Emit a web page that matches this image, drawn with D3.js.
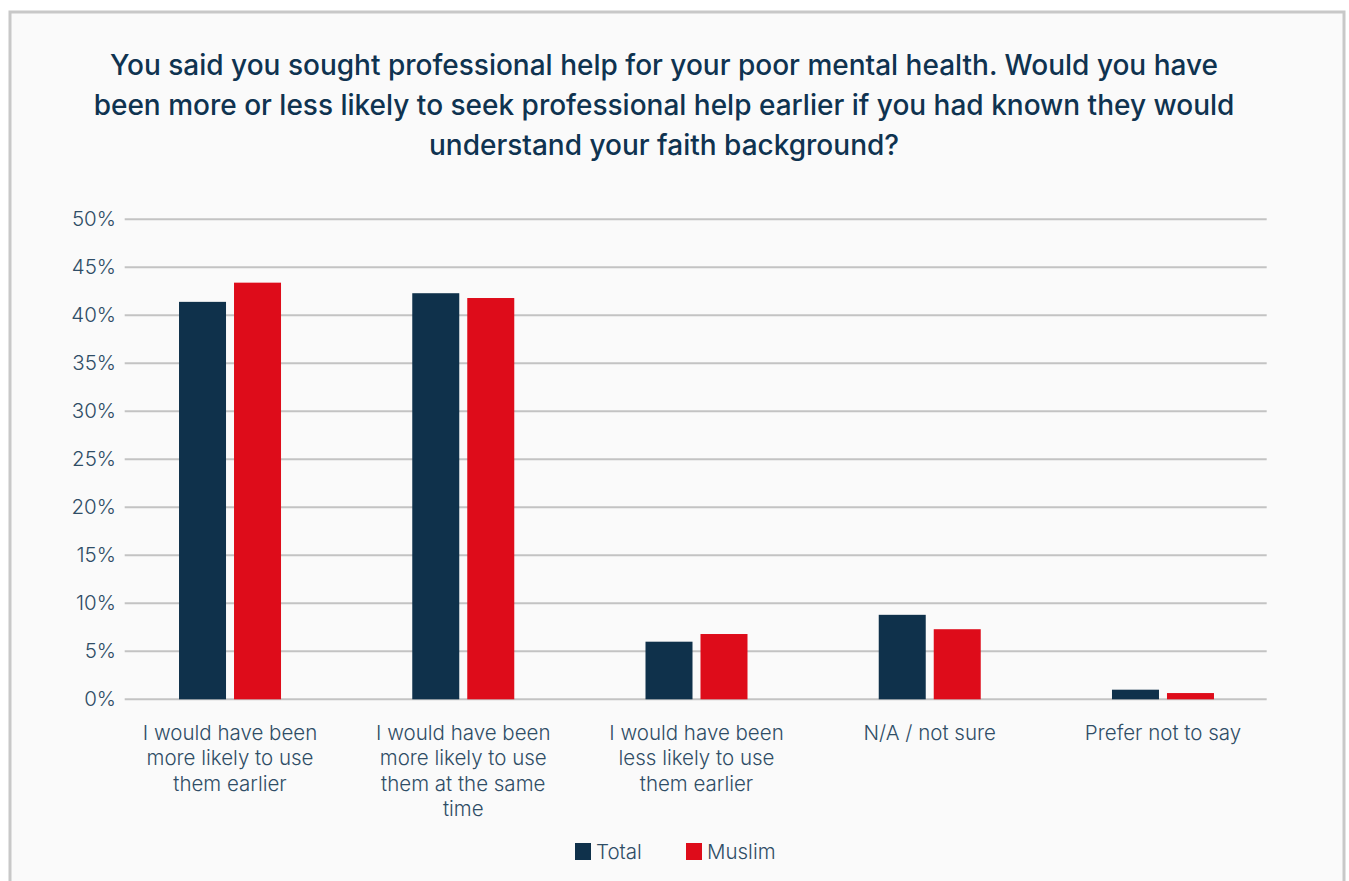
<!DOCTYPE html>
<html>
<head>
<meta charset="utf-8">
<script src="https://cdn.jsdelivr.net/npm/d3@7"></script>
<style>
  body { margin: 0; background: #ffffff; }
  svg { display: block; font-family: Inter, "Noto Sans", sans-serif; }
</style>
</head>
<body>
<svg id="svg_chart" width="1349" height="881"></svg>
<script>
var categories = [
	["I would have been", "more likely to use", "them earlier"],
	["I would have been", "more likely to use", "them at the same", "time"],
	["I would have been", "less likely to use", "them earlier"],
	["N/A / not sure"],
	["Prefer not to say"]
];
var seriesNames = ["Total", "Muslim"];
var totalValues = [41.4, 42.3, 6.0, 8.8, 1.0];
var muslimValues = [43.4, 41.8, 6.8, 7.3, 0.65];
var yTicks = [0, 5, 10, 15, 20, 25, 30, 35, 40, 45, 50];
var titleLines = [
	"You said you sought professional help for your poor mental health. Would you have",
	"been more or less likely to seek professional help earlier if you had known they would",
	"understand your faith background?"
];

function renderChart() {
	var svg = d3.select("#svg_chart"),
		width = +svg.attr("width"),
		height = +svg.attr("height");
	var colors = ["#0f314b", "#de0c1a"];
	var textColor = "#2f4d66";
	var labelSize = 20.5;

	// card background and frame
	svg.append("rect")
		.attr("x", 0).attr("y", 0).attr("width", width).attr("height", height)
		.attr("fill", "#ffffff");
	svg.append("rect")
		.attr("x", 10).attr("y", 12).attr("width", 1334).attr("height", height)
		.attr("fill", "#fafafa")
		.attr("stroke", "#c8c8c8")
		.attr("stroke-width", 3);

	// title
	svg.append("g").selectAll("text").data(titleLines)
		.enter().append("text")
		.attr("x", 664)
		.attr("y", function(d, i) { return 75 + i * 40; })
		.attr("text-anchor", "middle")
		.attr("fill", "#0f3350")
		.attr("font-size", 28)
		.attr("font-weight", 500)
		.text(function(d) { return d; });

	var scaleY = d3.scaleLinear().domain([0, 50]).range([699.3, 219.3]);
	var scaleX = d3.scaleBand().domain(d3.range(categories.length))
		.range([113.4, 1279.6]);
	var scaleInner = d3.scaleBand().domain(seriesNames)
		.range([0, 102]).paddingInner(8 / 55);

	// gridlines
	var g_grid = svg.append("g").attr("id", "grid");
	g_grid.selectAll("line").data(yTicks)
		.enter().append("line")
		.attr("x1", 124.7).attr("x2", 1266.7)
		.attr("y1", function(d) { return scaleY(d); })
		.attr("y2", function(d) { return scaleY(d); })
		.attr("stroke", "#c3c3c3")
		.attr("stroke-width", 2);

	// y axis labels
	var yAxis = d3.axisLeft(scaleY).tickValues(yTicks)
		.tickSize(0).tickPadding(0)
		.tickFormat(function(d) { return d + "%"; });
	var g_y = svg.append("g").attr("transform", "translate(116,0)").call(yAxis);
	g_y.select(".domain").remove();
	g_y.selectAll("text")
		.attr("font-family", "Inter, sans-serif")
		.attr("font-size", labelSize)
		.attr("font-weight", 300)
		.attr("fill", textColor);

	// bars
	var rows = categories.map(function(c, i) {
		return [
			{ "name": "Total", "value": totalValues[i], "cat": i },
			{ "name": "Muslim", "value": muslimValues[i], "cat": i }
		];
	});
	var g_bars = svg.append("g").attr("id", "bars");
	var groups = g_bars.selectAll("g").data(rows)
		.enter().append("g")
		.attr("transform", function(d, i) {
			return "translate(" + (scaleX(i) + scaleX.bandwidth() / 2 - 51) + ",0)";
		});
	groups.selectAll("rect").data(function(d) { return d; })
		.enter().append("rect")
		.attr("x", function(d) { return scaleInner(d.name); })
		.attr("width", scaleInner.bandwidth())
		.attr("y", function(d) { return scaleY(d.value); })
		.attr("height", function(d) { return scaleY(0) - scaleY(d.value); })
		.attr("fill", function(d, i) { return colors[i]; });

	// category labels
	var g_x = svg.append("g").attr("id", "xlabels");
	var labels = g_x.selectAll("text").data(categories)
		.enter().append("text")
		.attr("x", function(d, i) { return scaleX(i) + scaleX.bandwidth() / 2; })
		.attr("y", 740)
		.attr("text-anchor", "middle")
		.attr("font-size", labelSize)
		.attr("font-weight", 300)
		.attr("fill", textColor);
	labels.selectAll("tspan").data(function(d) { return d; })
		.enter().append("tspan")
		.attr("x", function() { return d3.select(this.parentNode).attr("x"); })
		.attr("dy", function(d, i) { return i == 0 ? 0 : 25.3; })
		.text(function(d) { return d; });

	// legend
	var legendX = [575, 686];
	var g_leg = svg.append("g").attr("id", "legend");
	var items = g_leg.selectAll("g").data(seriesNames)
		.enter().append("g")
		.attr("transform", function(d, i) { return "translate(" + legendX[i] + ",843)"; });
	items.append("rect")
		.attr("width", 16).attr("height", 17)
		.attr("fill", function(d, i) { return colors[i]; });
	items.append("text")
		.attr("x", 21).attr("y", 15.5)
		.attr("font-size", labelSize)
		.attr("font-weight", 300)
		.attr("fill", textColor)
		.text(function(d) { return d; });
}

renderChart();
</script>
</body>
</html>
